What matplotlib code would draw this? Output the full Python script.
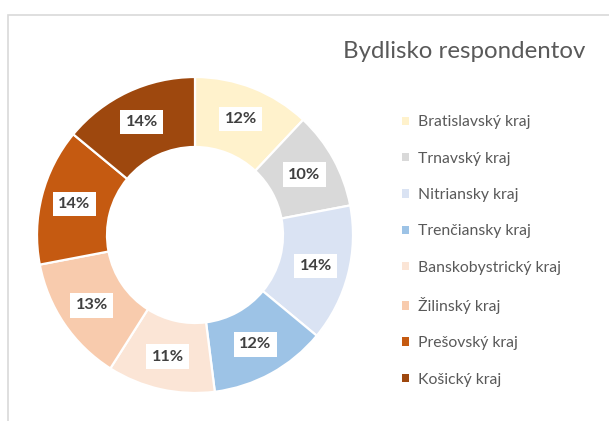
import matplotlib
matplotlib.use("Agg")
import matplotlib.pyplot as plt
from matplotlib.patches import Patch

plt.rcParams['font.family'] = ['Lato', 'DejaVu Sans']

title = "Bydlisko respondentov"
regions = ["Bratislavský kraj", "Trnavský kraj", "Nitriansky kraj", "Trenčiansky kraj",
           "Banskobystrický kraj", "Žilinský kraj", "Prešovský kraj", "Košický kraj"]
shares = [12, 10, 14, 12, 11, 13, 14, 14]
colors = ["#FFF2CC", "#D9D9D9", "#DAE3F3", "#9DC3E6",
          "#FBE5D6", "#F8CBAD", "#C55A11", "#9E480E"]

W, H = 609, 421
fig = plt.figure(figsize=(W / 100, H / 100), dpi=100)
ax = fig.add_axes([0, 0, 1, 1])

cx, cy, R, ring = 195, H - 235, 158, 70
wedges, texts, autotexts = ax.pie(
    shares, colors=colors, startangle=90, counterclock=False,
    radius=R, center=(cx, cy),
    wedgeprops=dict(width=ring, edgecolor='white', linewidth=1.6),
    autopct=lambda p: f"{p:.0f}%", pctdistance=0.79,
    textprops=dict(fontsize=11.8, fontweight='bold', color='#404040'))
for t in autotexts:
    t.set_bbox(dict(facecolor='white', edgecolor='none', boxstyle='square,pad=0.33'))

ax.set_xlim(0, W)
ax.set_ylim(0, H)
ax.set_aspect('auto')
ax.axis('off')

# chart frame
ax.plot([7.5, 7.5, W + 5], [-5, H - 14.5, H - 14.5], color='#D9D9D9', lw=1.2,
        solid_joinstyle='miter', clip_on=False)

fig.text(343 / W, 1 - 58 / H, title, fontsize=17.3, color='#595959',
         ha='left', va='baseline')

handles = [Patch(facecolor=c, edgecolor='none') for c in colors]
leg = ax.legend(handles, regions, loc='center left',
                bbox_to_anchor=(402 / W, 1 - 251 / H),
                frameon=False, fontsize=11.3, labelcolor='#595959',
                handlelength=0.44, handleheight=0.44, handletextpad=0.55,
                labelspacing=1.42, borderpad=0, borderaxespad=0)

fig.savefig("out.png", dpi=100)
